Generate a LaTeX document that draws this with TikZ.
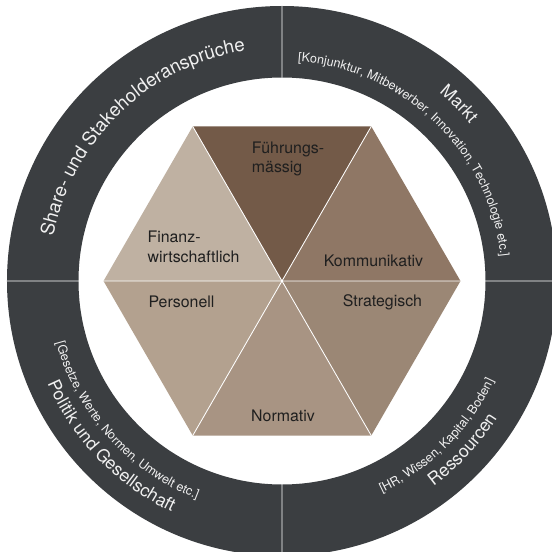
\documentclass[tikz,border=0pt]{standalone}
\usepackage{fontspec}
\setmainfont{TeX Gyre Heros}
\usetikzlibrary{decorations.text}
\definecolor{ring}{HTML}{3B3E41}
\definecolor{fuehr}{HTML}{735A48}
\definecolor{komm}{HTML}{8F7765}
\definecolor{strat}{HTML}{9B8775}
\definecolor{norm}{HTML}{A89483}
\definecolor{pers}{HTML}{B3A18F}
\definecolor{fin}{HTML}{BFB1A2}
\newcommand\topring{\fontsize{13.3}{15}\selectfont}
\newcommand\bigring{\fontsize{12.5}{14}\selectfont}
\newcommand\smallring{\fontsize{8.9}{10}\selectfont}
\tikzset{
  ringtxt/.style 2 args={decorate,decoration={text along path,text align=center,text color=white!94!black,text={|#1|#2}}},
  lab/.style={inner sep=0pt,text=black!88,font=\fontsize{11.3}{13.7}\selectfont,align=left}
}
\begin{document}
\begin{tikzpicture}[x=0.025cm,y=0.025cm,line join=round,line cap=round]
  \def\ro{275} \def\ri{203.5} \def\h{178.5}
  \useasboundingbox (-282,-271) rectangle (270,281);
  \clip (-282,-271) rectangle (270,281);
  \path
    (0,0) coordinate (O)
    (0:\h) coordinate (V0)
    (60:\h) coordinate (V1)
    (120:\h) coordinate (V2)
    (180:\h) coordinate (V3)
    (240:\h) coordinate (V4)
    (300:\h) coordinate (V5)
    ;
  % ring
  \fill[ring,even odd rule] (O) circle (\ro) circle (\ri);
  % hexagon
  \foreach \a/\b/\c in {V1/V2/fuehr,V0/V1/komm,V5/V0/strat,V4/V5/norm,V3/V4/pers,V2/V3/fin}
    \fill[\c] (O)--(\a)--(\b)--cycle;
  \draw[white,line width=0.6pt] (V0)--(V3) (V1)--(V4) (V2)--(V5)
    (-282,0)--(270,0) (0,\ri)--(0,\ro) (0,-\ri)--(0,-\ro);
  % labels in the ring
  \path[ringtxt={\topring}{Share- und Stakeholderansprüche}] (194:233) arc[start angle=194,end angle=74,radius=233];
  \path[ringtxt={\bigring}{Markt}] (105:245) arc[start angle=105,end angle=-15,radius=245];
  \path[ringtxt={\smallring}{[Konjunktur, Mitbewerber, Innovation, Technologie etc.]}] (106:220) arc[start angle=106,end angle=-14,radius=220];
  \path[ringtxt={\bigring}{Politik und Gesellschaft}] (164:256) arc[start angle=164,end angle=284,radius=256];
  \path[ringtxt={\smallring}{[Gesetze, Werte, Normen, Umwelt etc.]}] (162:234) arc[start angle=162,end angle=282,radius=234];
  \path[ringtxt={\bigring}{Ressourcen}] (257:255) arc[start angle=257,end angle=377,radius=255];
  \path[ringtxt={\smallring}{[HR, Wissen, Kapital, Boden]}] (255:234) arc[start angle=255,end angle=375,radius=234];
  % labels in the hexagon
  \node[lab,anchor=west] (fuehrung) at (-30.3,122.2) {Führungs-\\mässig};
  \node[lab,anchor=west] (finanz) at (-134.7,34.1) {Finanz-\\wirtschaftlich};
  \node[lab,anchor=base] (kommu) at (91.5,14.3) {Kommunikativ};
  \node[lab,anchor=base] (strategie) at (100.5,-25) {Strategisch};
  \node[lab,anchor=base] (personal) at (-100.5,-26.3) {Personell};
  \node[lab,anchor=base] (normativ) at (1,-140) {Normativ};
\end{tikzpicture}
\end{document}
